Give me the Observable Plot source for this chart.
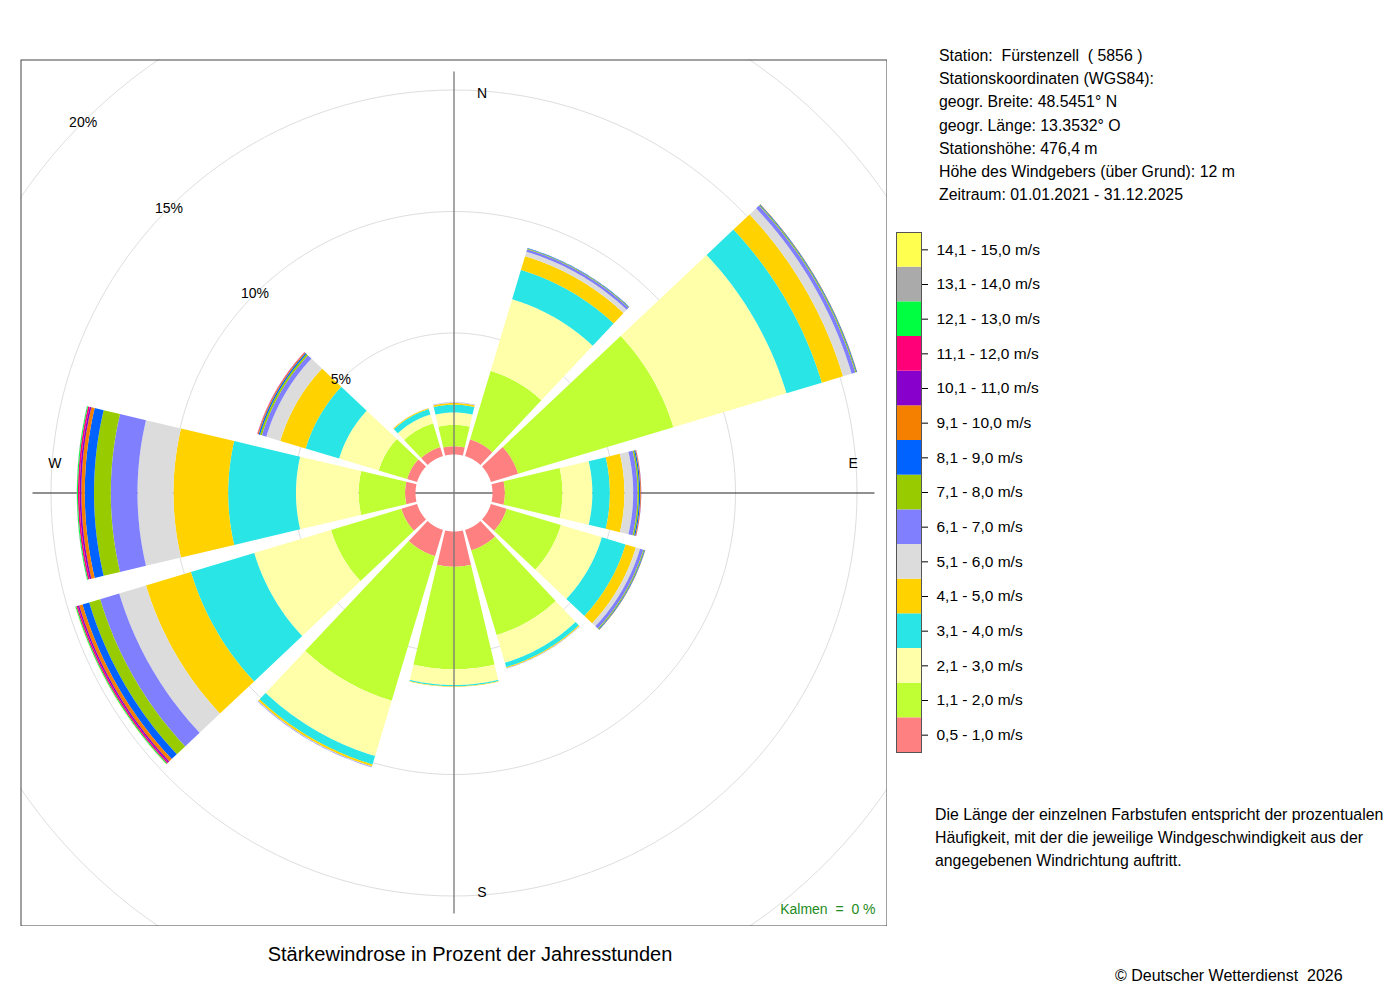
<!DOCTYPE html>
<html>
<head>
<meta charset="utf-8">
<script src="https://cdn.jsdelivr.net/npm/d3@7"></script>
<script src="https://cdn.jsdelivr.net/npm/@observablehq/plot@0.6"></script>
<style>
  body { margin: 0; background: #fff; font-family: "Liberation Sans", Arial, sans-serif; color: #000; }
  #page { position: relative; width: 1400px; height: 1000px; overflow: hidden; background: #fff; }
  .abs { position: absolute; white-space: pre; }
  svg text { white-space: pre; }
</style>
</head>
<body>
<div id="page">
  <div id="rose" class="abs" style="left:20px; top:59px;"></div>
  <div id="legend" class="abs" style="left:895px; top:231px;"></div>
  <div id="station" class="abs" style="left:939px; top:44px; font-size:15.85px; line-height:23.2px;"></div>
  <div id="note" class="abs" style="left:935px; top:803px; font-size:15.85px; line-height:23px;"></div>
  <div id="title" class="abs" style="left:20px; width:900px; top:942px; font-size:20px; line-height:24px; text-align:center;"></div>
  <div id="copyright" class="abs" style="left:1115px; top:966px; font-size:16px; line-height:20px;"></div>
</div>
<script>
// ---------------- data ----------------
const directions = [0, 30, 60, 90, 120, 150, 180, 210, 240, 270, 300, 330];

const speedClasses = [
  "0,5 - 1,0 m/s", "1,1 - 2,0 m/s", "2,1 - 3,0 m/s", "3,1 - 4,0 m/s", "4,1 - 5,0 m/s",
  "5,1 - 6,0 m/s", "6,1 - 7,0 m/s", "7,1 - 8,0 m/s", "8,1 - 9,0 m/s", "9,1 - 10,0 m/s",
  "10,1 - 11,0 m/s", "11,1 - 12,0 m/s", "12,1 - 13,0 m/s", "13,1 - 14,0 m/s", "14,1 - 15,0 m/s"
];

const classColors = [
  "#ff8080", "#bfff33", "#ffffaa", "#2ae5e5", "#ffd200",
  "#dcdcdc", "#8080ff", "#99cc00", "#0062ff", "#f58000",
  "#8800cc", "#ff0078", "#00ff40", "#aaaaaa", "#ffff50"
];

// frequency (% of hours) per speed class, for each direction sector
const freq000 = [0.34, 0.88, 0.51, 0.32, 0.07, 0.02, 0.01, 0, 0, 0, 0, 0, 0, 0, 0];
const freq030 = [0.72, 2.94, 3.08, 1.26, 0.59, 0.19, 0.11, 0.03, 0.02, 0, 0, 0, 0, 0, 0];
const freq060 = [1.17, 6.67, 4.86, 1.52, 0.91, 0.37, 0.16, 0.04, 0.03, 0.01, 0, 0, 0, 0, 0];
const freq090 = [0.51, 2.37, 1.23, 0.72, 0.60, 0.36, 0.18, 0.06, 0.05, 0.03, 0.01, 0, 0, 0, 0];
const freq120 = [0.68, 2.33, 1.76, 1.02, 0.44, 0.18, 0.14, 0.04, 0.03, 0.01, 0, 0, 0, 0, 0];
const freq150 = [0.88, 3.64, 1.19, 0.19, 0.04, 0.01, 0.01, 0, 0, 0, 0, 0, 0, 0, 0];
const freq180 = [1.45, 4.22, 0.65, 0.05, 0.02, 0, 0, 0, 0, 0, 0, 0, 0, 0, 0];
const freq210 = [1.13, 6.21, 2.38, 0.36, 0.08, 0.02, 0.02, 0, 0, 0, 0, 0, 0, 0, 0];
const freq240 = [0.68, 3.02, 3.30, 2.72, 1.93, 1.15, 0.82, 0.47, 0.29, 0.14, 0.06, 0.06, 0.04, 0.01, 0.01];
const freq270 = [0.43, 1.91, 2.58, 2.79, 2.25, 1.48, 1.10, 0.69, 0.38, 0.14, 0.07, 0.07, 0.04, 0.01, 0];
const freq300 = [0.43, 1.22, 1.70, 1.44, 1.09, 0.60, 0.19, 0.08, 0.06, 0.04, 0.01, 0.01, 0, 0, 0];
const freq330 = [0.39, 1.02, 0.38, 0.23, 0.04, 0.01, 0, 0, 0, 0, 0, 0, 0, 0, 0];

const gridPct = [5, 10, 15, 20];
const compassNS = [{t: "N", a: 0}, {t: "S", a: 180}];
const compassEW = [{t: "E", a: 90}, {t: "W", a: 270}];
const calmPct = 0;

const stationLines = [
  "Station:  Fürstenzell  ( 5856 )",
  "Stationskoordinaten (WGS84):",
  "geogr. Breite: 48.5451° N",
  "geogr. Länge: 13.3532° O",
  "Stationshöhe: 476,4 m",
  "Höhe des Windgebers (über Grund): 12 m",
  "Zeitraum: 01.01.2021 - 31.12.2025"
];
const noteLines = [
  "Die Länge der einzelnen Farbstufen entspricht der prozentualen",
  "Häufigkeit, mit der die jeweilige Windgeschwindigkeit aus der",
  "angegebenen Windrichtung auftritt."
];
const titleText = "Stärkewindrose in Prozent der Jahresstunden";
const copyrightText = "© Deutscher Wetterdienst  2026";

// ---------------- layout ----------------
const freqByDirection = [freq000, freq030, freq060, freq090, freq120, freq150,
                         freq180, freq210, freq240, freq270, freq300, freq330];
const PX = 24.3;            // pixels per percent
const SIZE = 867;
const HOLE = 38.5 / PX;     // inner calm circle radius (scale units)
const D = SIZE / 2 / PX;
const HALF = 13.3;          // half sector width, degrees
const NSEG = 48;
const rad = Math.PI / 180;

const wedgeRows = [];
directions.forEach((dir, i) => {
  let cum = HOLE;
  freqByDirection[i].forEach((v, k) => {
    if (!(v > 0)) return;
    const r0 = cum, r1 = cum + v;
    cum = r1;
    const id = `${dir}-${k}`;
    for (let j = 0; j <= NSEG; j++) {
      const a = (dir - HALF + 2 * HALF * j / NSEG) * rad;
      wedgeRows.push({id, cls: speedClasses[k], x: r1 * Math.sin(a), y: r1 * Math.cos(a)});
    }
    for (let j = NSEG; j >= 0; j--) {
      const a = (dir - HALF + 2 * HALF * j / NSEG) * rad;
      wedgeRows.push({id, cls: speedClasses[k], x: r0 * Math.sin(a), y: r0 * Math.cos(a)});
    }
  });
});

const gridRows = [];
gridPct.forEach(p => {
  for (let j = 0; j <= 360; j += 2) {
    const a = j * rad;
    gridRows.push({p, x: (HOLE + p) * Math.sin(a), y: (HOLE + p) * Math.cos(a)});
  }
});

const maxTotal = d3.max(freqByDirection, d => d3.sum(d));
const axisR = HOLE + maxTotal;
const labelR = axisR * 0.948;
const FONT = "'Liberation Sans', Arial, Helvetica, sans-serif";

const rose = Plot.plot({
  width: SIZE, height: SIZE, margin: 0,
  x: {domain: [-D, D], axis: null},
  y: {domain: [-D, D], axis: null},
  color: {domain: speedClasses, range: classColors},
  style: {fontFamily: FONT, fontSize: "14px", background: "#fff", color: "#000"},
  marks: [
    Plot.line(gridRows, {x: "x", y: "y", z: "p", stroke: "#dedede", strokeWidth: 1, clip: true}),
    Plot.ruleY([0], {x1: -axisR, x2: axisR, stroke: "#222", strokeWidth: 1}),
    Plot.line(wedgeRows, {x: "x", y: "y", z: "id", fill: "cls", stroke: "none"}),
    Plot.ruleX([0], {y1: -axisR, y2: axisR, stroke: "#777", strokeWidth: 1.3}),
    Plot.text(gridPct, {
      x: p => -(HOLE + p) * Math.SQRT1_2, y: p => (HOLE + p) * Math.SQRT1_2,
      text: p => `${p}%`, fontSize: 14, fill: "#000"
    }),
    Plot.text(compassNS, {
      x: d => labelR * Math.sin(d.a * rad), y: d => labelR * Math.cos(d.a * rad),
      text: "t", dx: 28, fontSize: 14, fill: "#000"
    }),
    Plot.text(compassEW, {
      x: d => labelR * Math.sin(d.a * rad), y: d => labelR * Math.cos(d.a * rad),
      text: "t", dy: -29, fontSize: 14, fill: "#000"
    }),
    Plot.text([calmPct], {
      frameAnchor: "bottom-right", text: d => `Kalmen  =  ${d} %`,
      textAnchor: "end", dx: -12, dy: -13, fontSize: 14, fill: "#228b22"
    }),
    Plot.frame({stroke: "#444", strokeWidth: 1, inset: 0.5})
  ]
});
document.getElementById("rose").appendChild(rose);

// ---------------- legend ----------------
const legend = Plot.plot({
  width: 26 + 170, height: 522,
  marginLeft: 1, marginRight: 170, marginTop: 1, marginBottom: 1,
  x: {domain: ["k"], padding: 0, round: false, axis: null},
  y: {domain: speedClasses.slice().reverse(), padding: 0, round: false, axis: "right",
      tickSize: 6, tickPadding: 9, label: null},
  color: {domain: speedClasses, range: classColors},
  style: {fontFamily: FONT, fontSize: "15.5px", background: "transparent", color: "#000"},
  marks: [
    Plot.cell(speedClasses, {x: () => "k", y: d => d, fill: d => d, inset: 0}),
    Plot.frame({stroke: "#555", strokeWidth: 1})
  ]
});
document.getElementById("legend").appendChild(legend);

// ---------------- texts ----------------
document.getElementById("station").textContent = stationLines.join("\n");
document.getElementById("note").textContent = noteLines.join("\n");
document.getElementById("title").textContent = titleText;
document.getElementById("copyright").textContent = copyrightText;
</script>
</body>
</html>
